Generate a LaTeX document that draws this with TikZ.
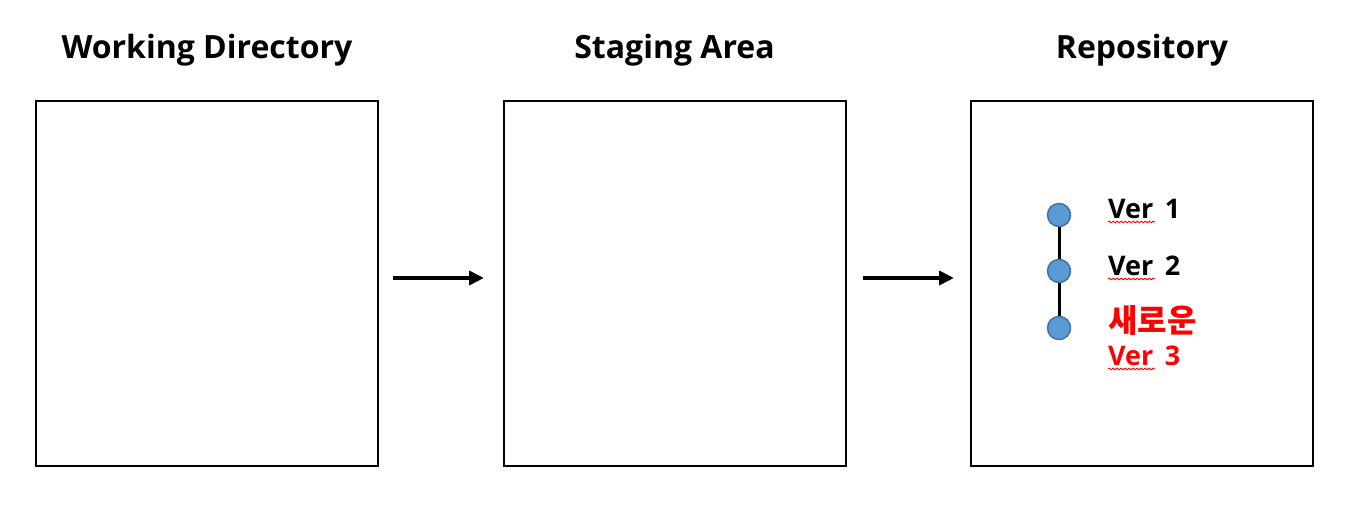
\documentclass[tikz,border=0pt]{standalone}
\usepackage{fontspec}
\setmainfont{Open Sans}
\newfontfamily\krfont{Noto Sans CJK KR}
\usetikzlibrary{arrows.meta,decorations.pathmorphing}
\definecolor{dotfill}{HTML}{5B9BD5}
\definecolor{dotline}{HTML}{41719C}
\definecolor{redtxt}{HTML}{FF0000}
\begin{document}
\begin{tikzpicture}[x=1pt,y=-1pt,
  box/.style={draw=black,line width=2pt,minimum width=342pt,minimum height=365pt,inner sep=0pt},
  title/.style={font=\fontsize{32}{38}\selectfont\bfseries,anchor=base,inner sep=0pt},
  ver/.style={font=\fontsize{27}{33}\selectfont\bfseries,anchor=base west,inner sep=0pt},
  dot/.style={circle,fill=dotfill,draw=dotline,line width=1.5pt,minimum size=23pt,inner sep=0pt},
  flow/.style={line width=4pt,-{Triangle[length=15pt,width=14pt]}},
  squig/.style={redtxt,line width=0.8pt,decorate,decoration={snake,amplitude=0.9pt,segment length=4pt}}
]
\useasboundingbox (0,0) rectangle (1366,510);
% boxes
\node[box] (wd) at (207,283.5) {};
\node[box] (sa) at (674.5,283.5) {};
\node[box] (rp) at (1142,283.5) {};
% titles
\node[title] (twd) at (207,59) {Working Directory};
\node[title] (tsa) at (674.5,59) {Staging Area};
\node[title] (trp) at (1142,59) {Repository};
% arrows
\coordinate (a1s) at (393,278);
\coordinate (a1e) at (484,278);
\coordinate (a2s) at (863,278);
\coordinate (a2e) at (954,278);
\draw[flow] (a1s) -- (a1e);
\draw[flow] (a2s) -- (a2e);
% commits
\node[dot] (c1) at (1059,215) {};
\node[dot] (c2) at (1059,271) {};
\node[dot] (c3) at (1059,328) {};
\draw[line width=3pt] (c1.south) -- (c2.north);
\draw[line width=3pt] (c2.south) -- (c3.north);
% labels
\node[ver] (v1) at (1108,219) {Ver\, 1};
\node[ver] (v2) at (1108,276) {Ver\, 2};
\node[ver,text=redtxt,font=\fontsize{32}{36}\selectfont\krfont\bfseries] (v3a) at (1108,333) {새로운};
\node[ver,text=redtxt] (v3b) at (1108,366) {Ver\, 3};
% spell-check underlines
\coordinate (s1a) at (1108,222); \coordinate (s1b) at (1155,222);
\coordinate (s2a) at (1108,279); \coordinate (s2b) at (1155,279);
\coordinate (s3a) at (1108,369); \coordinate (s3b) at (1155,369);
\draw[squig] (s1a) -- (s1b);
\draw[squig] (s2a) -- (s2b);
\draw[squig] (s3a) -- (s3b);
\end{tikzpicture}
\end{document}
